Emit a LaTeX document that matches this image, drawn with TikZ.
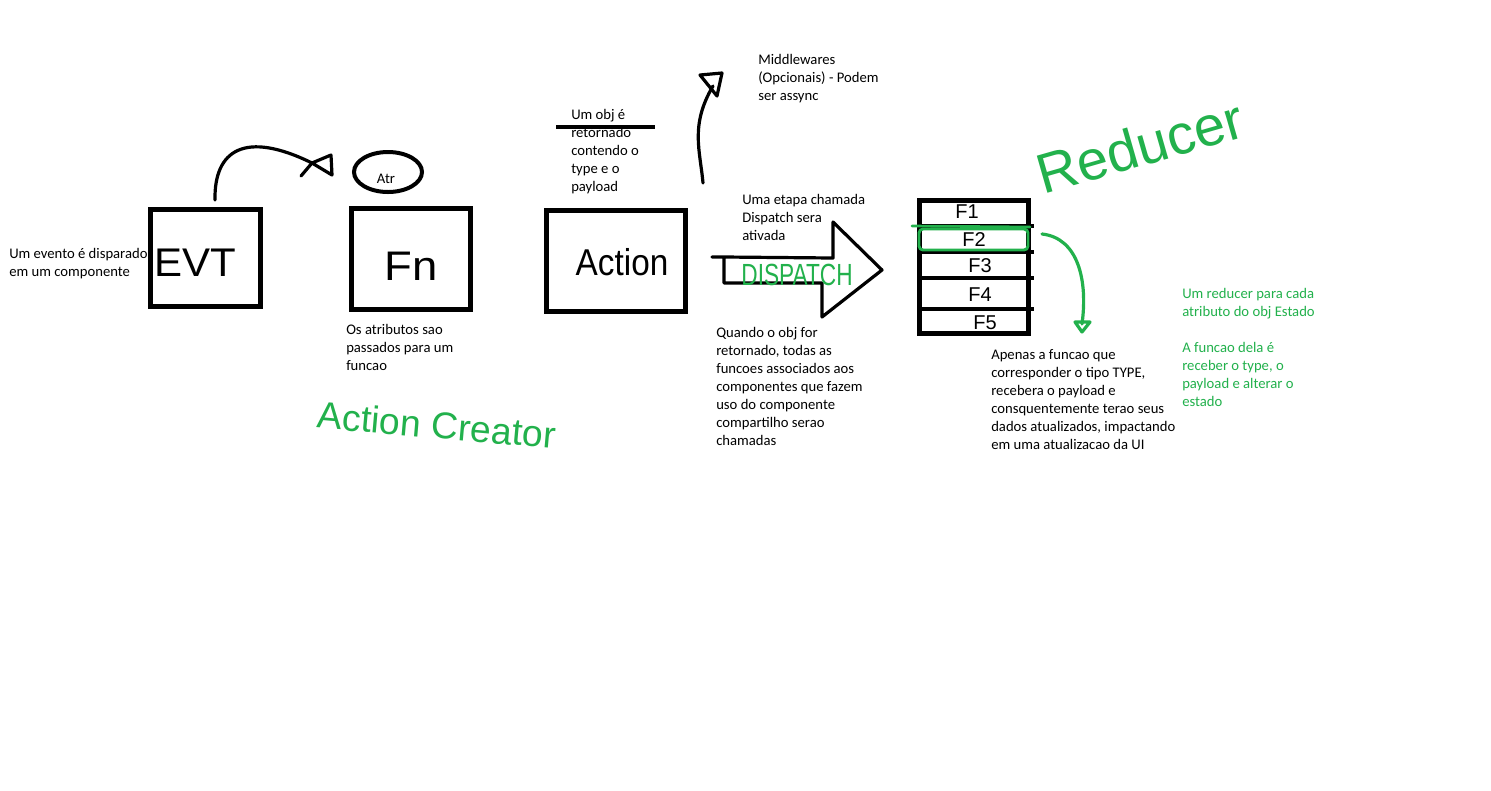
\documentclass[tikz,border=0pt]{standalone}
\usepackage{fontspec}
\setmainfont{Carlito}
\newfontfamily\handfont{Liberation Sans}
\usetikzlibrary{shapes.geometric,arrows.meta}
\definecolor{pgreen}{HTML}{22B14C}
\begin{document}
\begin{tikzpicture}[x=0.75pt,y=-0.75pt,
  box/.style={draw, line width=3.75pt, inner sep=0pt},
  ink/.style={line width=2.4pt, line cap=round, line join=round},
  gink/.style={ink, draw=pgreen},
  note/.style={anchor=north west, align=left, inner sep=0pt, font=\fontsize{11}{13.5}\selectfont},
  gnote/.style={note, text=pgreen},
  hand/.style={font=\handfont\fontsize{#1}{#1}\selectfont},
  flab/.style={hand=15, inner sep=0pt},
]
\useasboundingbox (0,0) rectangle (1491,790);
\fill[white] (0,0) rectangle (1491,790);

% --- boxes ---
\node[box, minimum width=82.5pt, minimum height=72.75pt] (evt) at (205.5,258) {};
\node[hand=30, inner sep=0pt, xscale=1.05] (evtlbl) at (195,263) {EVT};
\node[box, minimum width=89.25pt, minimum height=75.75pt] (fn) at (411,259) {};
\node[hand=31, inner sep=0pt, xscale=1.1] (fnlbl) at (411,266) {Fn};
\node[box, minimum width=104.25pt, minimum height=75.75pt] (action) at (616,261) {};
\node[hand=25, inner sep=0pt, yscale=1.12] (actlbl) at (622,262) {Action};
\node[draw, ellipse, line width=3pt, minimum width=51pt, minimum height=30pt, inner sep=0pt] (atr) at (388,172) {};
\node[inner sep=0pt, font=\fontsize{11}{13}\selectfont] (atrlbl) at (386,179) {Atr};

% --- EVT -> Fn arrow (hand drawn) ---
\coordinate (h1) at (312,163);
\draw[ink] (evt.north -| 215,0) ++(0,-7) .. controls (214,150) and (245,130) .. (h1);
\draw[ink] (h1) -- (331,155) -- (332,175) -- cycle;
\draw[ink] (h1) -- (301,176);

% --- Action: note and strike ---
\node[note] (objnote) at (571,109) {Um obj é\\retornado\\contendo o\\type e o\\payload};
\draw[line width=3pt] (556,127) -- (655,127);

% --- Middleware arrow ---
\coordinate (mwbase) at (703,183);
\coordinate (mwtip) at (713,86);
\draw[ink] (mwbase) .. controls (700,150) and (690,125) .. (mwtip);
\draw[ink] (700,75) -- (722,73) -- (717,96) -- cycle;
\node[note] (mw) at (758,54) {Middlewares\\(Opcionais) - Podem\\ser assync};

% --- Dispatch arrow ---
\node[note] (dispnote) at (742,194) {Uma etapa chamada\\Dispatch sera\\ativada};
\draw[ink] (712,257) -- (724,257) -- (724,283) -- (822,283) -- (822,317) -- (882,270) -- (833,222) -- (833,258) -- (724,257);
\node[hand=17, text=pgreen, inner sep=0pt, yscale=1.35] (disp) at (797,275) {DISPATCH};
\node[note] (quando) at (716,327) {Quando o obj for\\retornado, todas as\\funcoes associados aos\\componentes que fazem\\uso do componente\\compartilho serao\\chamadas};

% --- Reducer table ---
\node[box, minimum width=81.75pt, minimum height=99.75pt] (table) at (974,267) {};
\coordinate (r1l) at (917,226); \coordinate (r1r) at (1034,226);
\coordinate (r2l) at (917,252); \coordinate (r2r) at (1034,252);
\coordinate (r3l) at (917,278); \coordinate (r3r) at (1034,278);
\coordinate (r4l) at (917,309); \coordinate (r4r) at (1034,309);
\draw[line width=3.5pt] (r1l) -- (r1r) (r2l) -- (r2r) (r3l) -- (r3r) (r4l) -- (r4r);
\node[flab] (f1) at (967,212) {F1};
\node[flab] (f2) at (974,240) {F2};
\node[flab] (f3) at (980,266) {F3};
\node[flab] (f4) at (980,295) {F4};
\node[flab] (f5) at (985,323) {F5};
\draw[gink, line width=2pt] (912,226) -- (1030,227);
\draw[gink, line width=2.2pt, rounded corners=3pt] (919,229) rectangle (1028,250);

% --- green arrow to note ---
\coordinate (gtip) at (1082,324);
\draw[gink] (1042,234) .. controls (1078,238) and (1088,280) .. (gtip);
\draw[gink] (1075,322) -- (1090,322) -- (1082,332) -- cycle;

\node[note] (apenas) at (991,349) {Apenas a funcao que\\corresponder o tipo TYPE,\\recebera o payload e\\consquentemente terao seus\\dados atualizados, impactando\\em uma atualizacao da UI};

% --- green notes ---
\node[gnote] (rednote) at (1182,288) {Um reducer para cada\\atributo do obj Estado\\[13.5pt]A funcao dela é\\receber o type, o\\payload e alterar o\\estado};
\node[hand=42, text=pgreen, rotate=16, inner sep=0pt] (reducer) at (1140,146) {Reducer};
\node[hand=28, text=pgreen, rotate=-5, inner sep=0pt] (creator) at (437,425) {Action Creator};

% --- other notes ---
\node[note] (evtnote) at (9,248) {Um evento é disparado\\em um componente};
\node[note] (fnnote) at (346,324) {Os atributos sao\\passados para um\\funcao};
\end{tikzpicture}
\end{document}
